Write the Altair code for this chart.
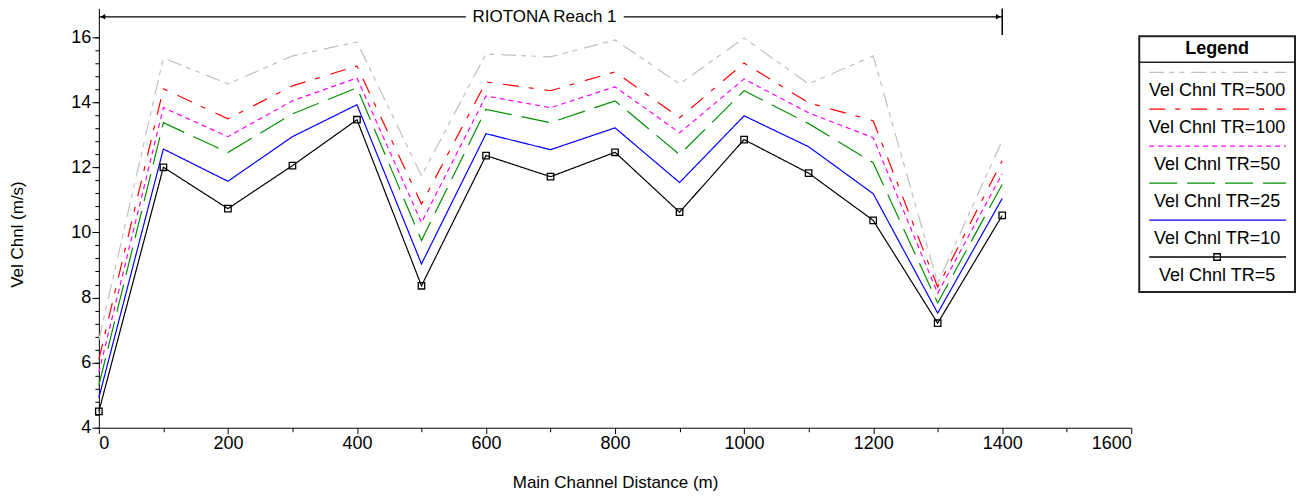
import altair as alt
import pandas as pd

# ---------------- data ----------------
distance = [0, 100, 200, 300, 400, 500, 600, 700, 800, 900, 1000, 1100, 1200, 1300, 1400]
series_names = ["Vel Chnl TR=500", "Vel Chnl TR=100", "Vel Chnl TR=50",
                "Vel Chnl TR=25", "Vel Chnl TR=10", "Vel Chnl TR=5"]
tr500 = [6.7, 15.36, 14.56, 15.42, 15.85, 11.74, 15.48, 15.39, 15.91, 14.56, 15.97, 14.56, 15.42, 8.44, 12.82]
tr100 = [6.1, 14.41, 13.49, 14.5, 15.11, 10.87, 14.62, 14.35, 14.93, 13.52, 15.2, 13.98, 13.43, 8.32, 12.2]
tr50 = [5.7, 13.83, 12.94, 14.04, 14.74, 10.3, 14.19, 13.83, 14.47, 13.06, 14.71, 13.67, 12.91, 8.13, 11.8]
tr25 = [5.3, 13.37, 12.45, 13.64, 14.44, 9.75, 13.78, 13.37, 14.04, 12.39, 14.35, 13.34, 12.14, 7.83, 11.47]
tr10 = [4.92, 12.56, 11.57, 12.94, 13.92, 9.03, 13.03, 12.54, 13.21, 11.53, 13.58, 12.63, 11.19, 7.52, 11.04]
tr5 = [4.5, 12.0, 10.73, 12.05, 13.46, 8.36, 12.36, 11.71, 12.46, 10.62, 12.85, 11.82, 10.37, 7.21, 10.52]
series_values = [tr500, tr100, tr50, tr25, tr10, tr5]

reach_label = ["RIOTONA Reach 1"]
reach_start = [0]
reach_end = [1400]
reach_level = [16.62]
reach_bar_bottom = [16.06]

x_major = [0, 200, 400, 600, 800, 1000, 1200, 1400, 1600]
x_minor = [100, 300, 500, 700, 900, 1100, 1300, 1500]
y_major = [4, 6, 8, 10, 12, 14, 16]
y_minor = [round(4 + 0.4 * i, 1) for i in range(31)]

# ---------------- styles ----------------
colors = ["#c0c0c0", "#ff0000", "#ff00ff", "#009000", "#0000ff", "#000000"]
dashes = [[15, 5, 5, 5, 5, 7], [16, 10, 5, 11], [5, 4], [28, 10], [1, 0], [1, 0]]
FONT = "Liberation Sans"
W, H = 1034, 420
Y_TOP = 16.88

rows = []
for name, vals in zip(series_names, series_values):
    for d, v in zip(distance, vals):
        rows.append({"series": name, "distance": d, "vel": v})
df = pd.DataFrame(rows)

xscale = alt.Scale(domain=[0, 1600], nice=False, zero=False)
yscale = alt.Scale(domain=[4, Y_TOP], nice=False, zero=False)

lines = alt.Chart(df).mark_line(strokeWidth=1.2).encode(
    x=alt.X("distance:Q", scale=xscale,
            axis=alt.Axis(values=x_major, tickSize=6, labelPadding=1, grid=False,
                          title="Main Channel Distance (m)", titleY=55,
                          titleBaseline="middle", titleFontWeight="normal",
                          orient="bottom", format="d")),
    y=alt.Y("vel:Q", scale=yscale,
            axis=alt.Axis(values=y_major, tickSize=7, labelPadding=1, grid=False,
                          title="Vel Chnl (m/s)", titleX=-81, titleY=226,
                          titleBaseline="middle", titleAlign="center",
                          titleFontWeight="normal", orient="left", format="d")),
    color=alt.Color("series:N", scale=alt.Scale(domain=series_names, range=colors), legend=None),
    strokeDash=alt.StrokeDash("series:N", scale=alt.Scale(domain=series_names, range=dashes), legend=None),
)

markers = alt.Chart(df[df["series"] == series_names[-1]]).mark_point(
    shape="square", size=42, filled=False, color="black", strokeWidth=1.3, opacity=1
).encode(
    x=alt.X("distance:Q", scale=xscale, axis=None),
    y=alt.Y("vel:Q", scale=yscale, axis=None),
)

minor = alt.Chart(pd.DataFrame({"xm": x_minor[:1], "ym": y_minor[:1]})).mark_point(opacity=0).encode(
    x=alt.X("xm:Q", scale=xscale,
            axis=alt.Axis(values=x_minor, tickSize=4, labels=False, domain=False,
                          grid=False, title=None, orient="bottom")),
    y=alt.Y("ym:Q", scale=yscale,
            axis=alt.Axis(values=y_minor, tickSize=4, labels=False, domain=False,
                          grid=False, title=None, orient="left")),
)

reach_df = pd.DataFrame({"label": reach_label, "start": reach_start, "end": reach_end,
                         "level": reach_level, "bar_bottom": reach_bar_bottom,
                         "mid": [(s + e) / 2 for s, e in zip(reach_start, reach_end)],
                         "top": [Y_TOP]})
rbase = alt.Chart(reach_df)
reach_line = rbase.mark_rule(color="black", strokeWidth=1.2).encode(
    x=alt.X("start:Q", scale=xscale, axis=None), x2="end:Q",
    y=alt.Y("level:Q", scale=yscale, axis=None))
reach_bar = rbase.mark_rule(color="black", strokeWidth=1.5).encode(
    x=alt.X("end:Q", scale=xscale, axis=None),
    y=alt.Y("top:Q", scale=yscale, axis=None), y2="bar_bottom:Q")
arrow_l = rbase.mark_point(shape="triangle-left", size=30, filled=True, color="black",
                           opacity=1, xOffset=4).encode(
    x=alt.X("start:Q", scale=xscale, axis=None), y=alt.Y("level:Q", scale=yscale, axis=None))
arrow_r = rbase.mark_point(shape="triangle-right", size=30, filled=True, color="black",
                           opacity=1, xOffset=-4).encode(
    x=alt.X("end:Q", scale=xscale, axis=None), y=alt.Y("level:Q", scale=yscale, axis=None))
reach_mask = rbase.mark_text(font=FONT, fontSize=17, stroke="white", strokeWidth=16,
                             fill="white", dx=-6).encode(
    x=alt.X("mid:Q", scale=xscale, axis=None), y=alt.Y("level:Q", scale=yscale, axis=None),
    text="label:N")
reach_text = rbase.mark_text(font=FONT, fontSize=17, color="black", dx=-6).encode(
    x=alt.X("mid:Q", scale=xscale, axis=None), y=alt.Y("level:Q", scale=yscale, axis=None),
    text="label:N")

# ---------------- custom legend box ----------------
LX0, LX1, LY0, LY1 = 1042, 1198, 28, 284
legend_layers = [
    alt.Chart(reach_df).mark_rect(fill="white", stroke="#222222", strokeWidth=2).encode(
        x=alt.value(LX0), x2=alt.value(LX1), y=alt.value(LY0), y2=alt.value(LY1)),
    alt.Chart(reach_df).mark_rule(color="#222222", strokeWidth=1.5).encode(
        x=alt.value(LX0), x2=alt.value(LX1), y=alt.value(54)),
    alt.Chart(reach_df).mark_text(font=FONT, fontSize=18, fontWeight="bold", color="black").encode(
        x=alt.value((LX0 + LX1) / 2), y=alt.value(41), text=alt.value("Legend")),
]
for i, (name, col, dash) in enumerate(zip(series_names, colors, dashes)):
    ly = 64 + 37 * i
    legend_layers.append(
        alt.Chart(reach_df).mark_rule(color=col, strokeWidth=1.3, strokeDash=dash).encode(
            x=alt.value(1052), x2=alt.value(1189), y=alt.value(ly)))
    legend_layers.append(
        alt.Chart(reach_df).mark_text(font=FONT, fontSize=18, color="black").encode(
            x=alt.value((LX0 + LX1) / 2), y=alt.value(ly + 19), text=alt.value(name)))
legend_layers.append(
    alt.Chart(reach_df).mark_point(shape="square", size=42, filled=False, color="black",
                                   strokeWidth=1.3, opacity=1).encode(
        x=alt.value((LX0 + LX1) / 2), y=alt.value(64 + 37 * 5)))

chart = alt.layer(
    lines, markers, minor, reach_line, reach_bar, arrow_l, arrow_r, reach_mask, reach_text,
    *legend_layers
).resolve_axis(x="independent", y="independent").properties(
    width=W, height=H,
    autosize=alt.AutoSizeParams(type="none"),
    padding={"left": 91, "top": 0, "right": 166, "bottom": 68},
).configure_view(stroke=None).configure_axis(
    labelFont=FONT, titleFont=FONT, labelFontSize=18, titleFontSize=17,
    labelColor="black", titleColor="black", domainColor="black", tickColor="black",
    domainWidth=1, tickWidth=1,
)

chart.save("out.html", embed_options={"renderer": "svg", "actions": False})
